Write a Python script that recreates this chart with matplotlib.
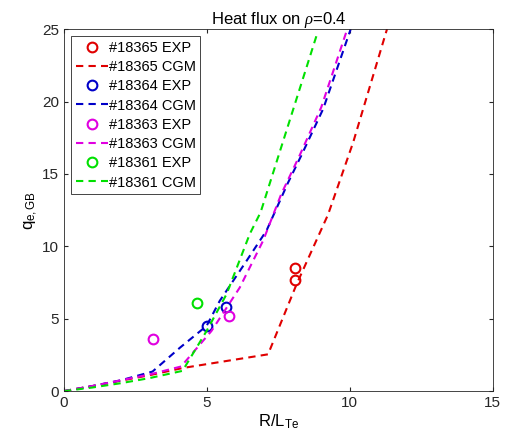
import numpy as np
import matplotlib.pyplot as plt

plt.rcParams['font.family'] = ['Liberation Sans', 'DejaVu Sans']
plt.rcParams['mathtext.fontset'] = 'custom'
plt.rcParams['mathtext.rm'] = 'Liberation Sans'
plt.rcParams['mathtext.it'] = 'Liberation Serif:italic'

# ---- data ----
shots = ['#18365', '#18364', '#18363', '#18361']
colors = ['#e00000', '#0000c8', '#e000e0', '#00e000']

exp_x = [[8.10, 8.10], [4.99, 5.66], [3.12, 5.78], [4.64]]
exp_y = [[8.47, 7.69], [4.50, 5.82], [3.58, 5.19], [6.11]]

cgm_x = [
    [0.0, 1.0, 2.0, 3.0, 4.17, 7.14, 8.14, 9.24, 10.12, 11.3],
    [0.0, 1.0, 2.0, 3.1, 4.06, 4.99, 5.45, 6.39, 7.09, 7.84, 8.31, 9.07, 10.03],
    [0.0, 1.0, 2.0, 3.0, 4.1, 5.16, 6.15, 6.97, 7.6, 8.25, 9.0, 9.91],
    [0.0, 1.0, 2.0, 3.0, 4.15, 4.99, 5.69, 6.5, 6.88, 8.86],
]
cgm_y = [
    [0.0, 0.35, 0.72, 1.1, 1.6, 2.54, 7.39, 12.2, 17.2, 25.0],
    [0.0, 0.35, 0.75, 1.35, 3.0, 4.5, 6.23, 9.0, 11.1, 14.4, 16.3, 19.5, 25.0],
    [0.0, 0.35, 0.75, 1.15, 1.7, 4.15, 7.15, 10.4, 13.6, 16.3, 19.6, 25.0],
    [0.0, 0.25, 0.55, 0.9, 1.4, 4.15, 6.7, 10.85, 12.35, 24.7],
]

fig = plt.figure(figsize=(5.07, 4.48), dpi=100)
ax = fig.add_axes([0.126, 0.127, 0.846, 0.808])

for i, s in enumerate(shots):
    ax.plot(exp_x[i], exp_y[i], 'o', mfc='none', mec=colors[i], mew=1.5,
            ms=7, label=f'{s} EXP')
    ax.plot(cgm_x[i], cgm_y[i], '--', color=colors[i], lw=1.5,
            dashes=(3.5, 2.5), label=f'{s} CGM')

ax.set_xlim(0, 15)
ax.set_ylim(0, 25)
ax.set_xticks([0, 5, 10, 15])
ax.set_yticks([0, 5, 10, 15, 20, 25])
ax.tick_params(direction='in', length=3, labelsize=11, colors='#262626',
               top=True, right=True)
for sp in ax.spines.values():
    sp.set_color('#262626')
    sp.set_linewidth(0.6)

ax.set_xlabel(r'R/L$_{\rm Te}$', fontsize=12, labelpad=2)
ax.set_ylabel(r'q$_{\rm e,GB}$', fontsize=12, labelpad=2)
ax.set_title(r'Heat flux on $\rho$=0.4', fontsize=12, pad=4)

leg = ax.legend(loc='upper left', fontsize=10.5, handlelength=2.2,
                handletextpad=0.1, borderpad=0.3, labelspacing=0.36,
                borderaxespad=0.5, fancybox=False, framealpha=1,
                edgecolor='#262626')
leg.get_frame().set_linewidth(0.6)

fig.savefig('out.png', dpi=100)
